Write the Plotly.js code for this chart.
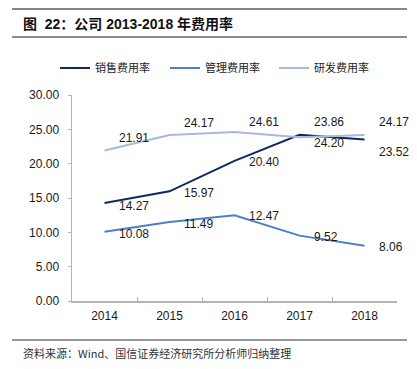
<!DOCTYPE html>
<html>
<head>
<meta charset="utf-8">
<script src="https://cdn.plot.ly/plotly-3.0.1.min.js"></script>
<style>html,body{margin:0;padding:0;background:#fff;}#chart{width:417px;height:369px;}</style>
</head>
<body>
<div id="chart"></div>
<script>
const years = ['2014', '2015', '2016', '2017', '2018'];
const sales = [14.27, 15.97, 20.40, 24.20, 23.52];
const admin = [10.08, 11.49, 12.47, 9.52, 8.06];
const rnd = [21.91, 24.17, 24.61, 23.86, 24.17];
const seriesNames = ['销售费用率', '管理费用率', '研发费用率'];
const yTicks = [0, 5, 10, 15, 20, 25, 30];

const colors = ['#0d2b5e', '#4f7fc4', '#a7b9dc'];
// vertical label offsets (px, positive = down) – styling only
const labelDy = [[3, 2, 1, 8, 12], [2, 2, 1, 1, 1], [-13, -12, -10, -15, -13]];
const legendLeft = [55, 165, 274];
const allSeries = [sales, admin, rnd];

const cjk = '"Noto Sans CJK SC", "Noto Sans", sans-serif';
const latin = '"Liberation Sans", Arial, sans-serif';

const legendIds = ['legend', 'legend2', 'legend3'];
const traces = allSeries.map((vals, i) => ({
  type: 'scatter', mode: 'lines', x: years, y: vals, name: seriesNames[i],
  line: {color: colors[i], width: 2}, hoverinfo: 'skip', legend: legendIds[i]
}));

const annotations = [];
allSeries.forEach((vals, i) => {
  vals.forEach((v, j) => {
    annotations.push({
      x: j, y: v, xref: 'x', yref: 'y', text: v.toFixed(2), showarrow: false,
      xanchor: 'left', yanchor: 'middle', xshift: 12, yshift: -labelDy[i][j],
      font: {family: latin, size: 12, color: '#1a1a1a'}
    });
  });
});

// paper coordinate helpers (plot area: x 72..397, y 95..301)
const px = p => (p - 72) / 325;
const py = p => (301 - p) / 206;

annotations.push({
  xref: 'paper', yref: 'paper', x: px(21), y: py(24), xanchor: 'left', yanchor: 'middle',
  text: '<b>图  22：公司 2013-2018 年费用率</b>', showarrow: false,
  font: {family: '"Liberation Sans", "Noto Sans CJK SC", sans-serif', size: 14, color: '#111'}
});
annotations.push({
  xref: 'paper', yref: 'paper', x: px(21), y: py(353), xanchor: 'left', yanchor: 'middle',
  text: '资料来源：Wind、国信证券经济研究所分析师归纳整理', showarrow: false,
  font: {family: cjk, size: 11, color: '#333'}
});

const shapes = [
  {type: 'line', xref: 'paper', yref: 'paper', x0: px(12), x1: px(407), y0: py(9), y1: py(9), line: {color: '#111', width: 1.2}},
  {type: 'line', xref: 'paper', yref: 'paper', x0: px(12), x1: px(407), y0: py(37), y1: py(37), line: {color: '#8c8c8c', width: 2}},
  {type: 'line', xref: 'paper', yref: 'paper', x0: px(12), x1: px(407), y0: py(340), y1: py(340), line: {color: '#333', width: 1}}
];

const layout = {
  width: 417, height: 369,
  margin: {l: 72, r: 20, t: 95, b: 68},
  paper_bgcolor: '#fff', plot_bgcolor: '#fff',
  showlegend: true,
  xaxis: {
    type: 'category', categoryorder: 'array', categoryarray: years, range: [-0.5, years.length - 0.5],
    showgrid: false, zeroline: false, showline: true, linecolor: '#b5b5b5', linewidth: 1.5,
    ticks: 'inside', tickson: 'boundaries', ticklen: 4, tickcolor: '#b5b5b5', ticklabelstandoff: 3,
    tickfont: {family: latin, size: 12, color: '#1a1a1a'}, tickangle: 0, fixedrange: true
  },
  yaxis: {
    range: [0, 30], tickvals: yTicks, ticktext: yTicks.map(v => v.toFixed(2)),
    showgrid: false, zeroline: false, showline: true, linecolor: '#b5b5b5', linewidth: 1.5,
    ticks: 'outside', ticklen: 3, tickcolor: '#b5b5b5', ticklabelstandoff: 6,
    tickfont: {family: latin, size: 12, color: '#1a1a1a'}, fixedrange: true
  },
  annotations: annotations,
  shapes: shapes
};
legendIds.forEach((id, i) => {
  layout[id] = {
    orientation: 'h', xref: 'container', yref: 'container', x: legendLeft[i] / 417, y: 1 - 68 / 369,
    xanchor: 'left', yanchor: 'middle',
    font: {family: cjk, size: 11, color: '#222'}, itemclick: false, bgcolor: 'rgba(0,0,0,0)'
  };
});

Plotly.newPlot('chart', traces, layout, {displayModeBar: false, staticPlot: true});
</script>
</body>
</html>
